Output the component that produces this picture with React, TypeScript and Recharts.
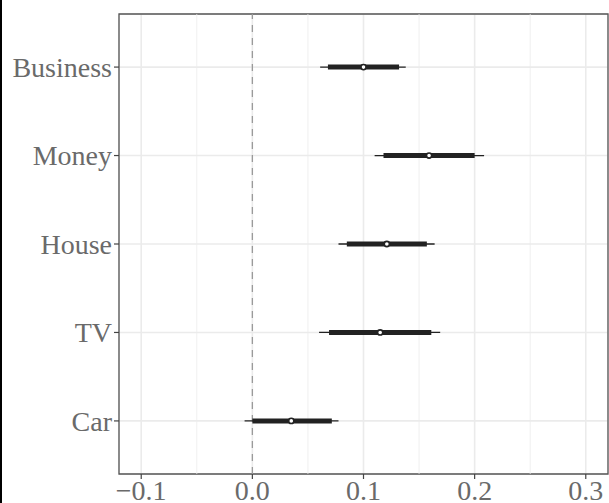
import React from 'react';
import {
  ScatterChart,
  Scatter,
  XAxis,
  YAxis,
  CartesianGrid,
  ReferenceLine,
  ReferenceArea,
  ErrorBar,
} from 'recharts';

const categories = ['Car', 'TV', 'House', 'Money', 'Business'];
const estimates = [0.035, 0.115, 0.121, 0.159, 0.1];
const innerLow = [0.0, 0.069, 0.085, 0.118, 0.068];
const innerHigh = [0.0715, 0.161, 0.157, 0.2, 0.132];
const outerLow = [-0.007, 0.06, 0.0775, 0.11, 0.061];
const outerHigh = [0.0775, 0.169, 0.164, 0.2085, 0.138];

const majorTicks = [-0.1, 0, 0.1, 0.2, 0.3];
const minorTicks = [-0.05, 0.05, 0.15, 0.25];

const data = categories.map((name, i) => ({
  name,
  pos: i + 1,
  est: estimates[i],
  inner: [estimates[i] - innerLow[i], innerHigh[i] - estimates[i]],
  outer: [estimates[i] - outerLow[i], outerHigh[i] - estimates[i]],
}));

const FONT = '"Liberation Serif", "Times New Roman", serif';
const tickStyle = { fontFamily: FONT, fontSize: 28, fill: '#6a6a6a' };

const fmt = (v: number) => {
  const s = Math.abs(v).toFixed(1);
  return v < 0 ? '\u2212' + s : s;
};

export default function App() {
  return (
    <div style={{ position: 'absolute', left: 0, top: 0, width: 609, height: 503, background: '#fff' }}>
      <ScatterChart
        width={609}
        height={503}
        margin={{ top: 14, right: 1, bottom: 0, left: 0 }}
      >
        <CartesianGrid stroke="#ebebeb" strokeWidth={1.6} horizontal vertical />
        {minorTicks.map((t) => (
          <ReferenceLine key={t} x={t} stroke="#ebebeb" strokeWidth={0.8} />
        ))}
        <XAxis
          type="number"
          dataKey="est"
          domain={[-0.12, 0.32]}
          ticks={majorTicks}
          tickFormatter={fmt}
          allowDataOverflow
          axisLine={false}
          tickLine={{ stroke: '#444', strokeWidth: 1.2 }}
          tickSize={5}
          tickMargin={1}
          tick={tickStyle}
          height={29}
          interval={0}
        />
        <YAxis
          type="number"
          dataKey="pos"
          domain={[0.4, 5.6]}
          ticks={[1, 2, 3, 4, 5]}
          tickFormatter={(v: number) => categories[v - 1]}
          allowDataOverflow
          axisLine={false}
          tickLine={{ stroke: '#444', strokeWidth: 1.2 }}
          tickSize={5}
          tickMargin={2}
          tick={tickStyle}
          width={119}
          interval={0}
        />
        <ReferenceLine x={0} stroke="#9a9a9a" strokeWidth={1.3} strokeDasharray="7 6" />
        <ReferenceArea
          x1={-0.12}
          x2={0.32}
          y1={0.4}
          y2={5.6}
          fill="none"
          stroke="#555"
          strokeWidth={1.3}
          ifOverflow="visible"
        />
        <Scatter
          data={data}
          isAnimationActive={false}
          shape={(p: any) => (
            <circle cx={p.cx} cy={p.cy} r={2.6} fill="#fff" stroke="#222" strokeWidth={1.6} />
          )}
        >
          <ErrorBar dataKey="outer" direction="x" width={0} stroke="#222" strokeWidth={1.3} isAnimationActive={false} />
          <ErrorBar dataKey="inner" direction="x" width={0} stroke="#222" strokeWidth={5} isAnimationActive={false} />
        </Scatter>
      </ScatterChart>
      <div style={{ position: 'absolute', left: 0, top: 0, width: 2, height: 503, background: '#000' }} />
    </div>
  );
}
